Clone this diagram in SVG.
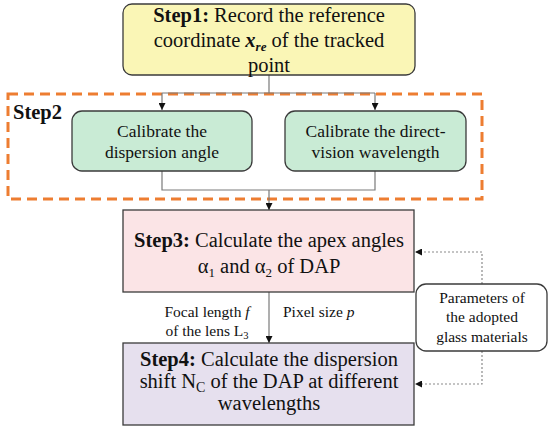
<svg xmlns="http://www.w3.org/2000/svg" width="550" height="431" viewBox="0 0 550 431">
<style>
  text { fill: #111; font-family: "Liberation Serif", "Times New Roman", serif; }
  .t19 { font-size: 20.5px; text-anchor: middle; }
  .t17 { font-size: 17.5px; text-anchor: middle; }
  .t15 { font-size: 15.5px; text-anchor: middle; }
  .t14 { font-size: 15.5px; }
  .box { stroke: #3b3b3b; stroke-width: 1.3; }
  .conn { fill: none; stroke: #7a7a7a; stroke-width: 1.2; }
  .dot { fill: none; stroke: #8a8a8a; stroke-width: 1.2; stroke-dasharray: 2 2; }
  .b { font-weight: bold; }
</style>
<defs>
  <marker id="ah" viewBox="0 0 10 10" refX="10" refY="5" markerWidth="7" markerHeight="7" markerUnits="userSpaceOnUse" orient="auto">
    <path d="M0,0 L10,5 L0,10 z" fill="#111"/>
  </marker>
</defs>
<rect width="550" height="431" fill="#ffffff"/>
<g id="step2-frame">
  <rect x="8" y="94" width="474" height="105" fill="none" stroke="#ED7D31" stroke-width="3" stroke-dasharray="10 6"/>
  <text x="13" y="119" font-size="20.5" class="b">Step2</text>
</g>

<g id="connectors">
  <path class="conn" d="M269,75 V93 M162,93 H375 M162,93 V110" marker-end="url(#ah)"/>
  <path class="conn" d="M375,93 V110" marker-end="url(#ah)"/>
  <path class="conn" d="M162,171 V190 H375 V171 M269,190 V210" marker-end="url(#ah)"/>
  <path class="conn" d="M269,292 V343" marker-end="url(#ah)"/>
  <path class="dot" d="M482,284 V252 H415" marker-end="url(#ah)"/>
  <path class="dot" d="M482,351 V384 H415" marker-end="url(#ah)"/>
  <text x="207" y="317" class="t14" text-anchor="middle">Focal length <tspan font-style="italic">f</tspan></text>
  <text x="207" y="336" class="t14" text-anchor="middle">of the lens L<tspan font-size="10.5" dy="3">3</tspan></text>
  <text x="283" y="317" class="t14">Pixel size <tspan font-style="italic">p</tspan></text>
</g>

<g id="step1">
  <rect class="box" x="123" y="4" width="292" height="71" rx="9" fill="#FAF6B6"/>
  <text x="269" y="22" class="t19"><tspan class="b">Step1:</tspan> Record the reference</text>
  <text x="269" y="47" class="t19">coordinate <tspan font-weight="bold" font-style="italic">x</tspan><tspan font-weight="bold" font-style="italic" font-size="13" dy="4">re</tspan><tspan dy="-4"> of  the tracked</tspan></text>
  <text x="269" y="72" class="t19">point</text>
</g>

<g id="calib-angle">
  <rect class="box" x="72" y="111" width="180" height="60" rx="10" fill="#C9EBD5"/>
  <text x="162" y="137" class="t17">Calibrate the</text>
  <text x="162" y="158" class="t17">dispersion angle</text>
</g>

<g id="calib-wavelength">
  <rect class="box" x="285" y="111" width="181" height="60" rx="10" fill="#C9EBD5"/>
  <text x="375.5" y="137" class="t17">Calibrate the direct-</text>
  <text x="375.5" y="158" class="t17">vision wavelength</text>
</g>

<g id="step3">
  <rect class="box" x="123" y="210" width="291" height="82" fill="#FBE4E6"/>
  <text x="269" y="247" class="t19"><tspan class="b">Step3:</tspan> Calculate the apex angles</text>
  <text x="269" y="273" class="t19">α<tspan font-size="13" dy="4">1</tspan><tspan dy="-4"> and α</tspan><tspan font-size="13" dy="4">2</tspan><tspan dy="-4"> of DAP</tspan></text>
</g>

<g id="step4">
  <rect class="box" x="123" y="343" width="291" height="82" fill="#E6E0EE"/>
  <text x="269" y="366" class="t19"><tspan class="b">Step4:</tspan> Calculate the dispersion</text>
  <text x="269" y="388" class="t19">shift N<tspan font-size="14" dy="4">C</tspan><tspan dy="-4"> of the DAP at different</tspan></text>
  <text x="269" y="410" class="t19">wavelengths</text>
</g>

<g id="parameters">
  <rect class="box" x="416" y="284" width="131" height="67" rx="10" fill="#ffffff"/>
  <text x="482" y="303" class="t15">Parameters of</text>
  <text x="482" y="322" class="t15">the adopted</text>
  <text x="482" y="342" class="t15">glass materials</text>
</g>
</svg>
